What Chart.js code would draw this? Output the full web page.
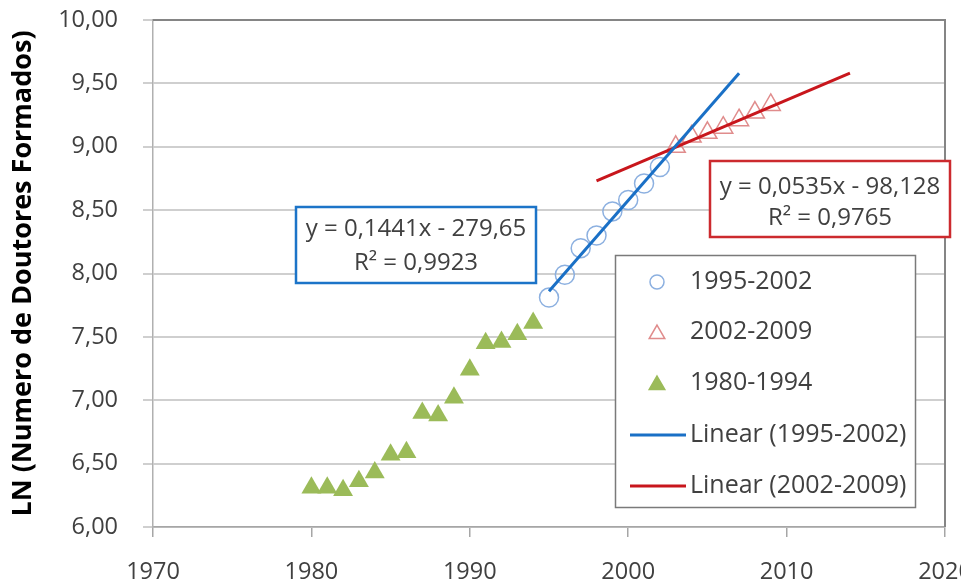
<!DOCTYPE html>
<html>
<head>
<meta charset="utf-8">
<script src="https://cdn.jsdelivr.net/npm/chart.js@4.4.1/dist/chart.umd.min.js"></script>
<style>
  html, body { margin: 0; padding: 0; background: #fff; }
  #wrap { width: 961px; height: 584px; }
</style>
</head>
<body>
<div id="wrap"><canvas id="chart" width="961" height="584"></canvas></div>
<script>
// values
const years8094 = [1980, 1981, 1982, 1983, 1984, 1985, 1986, 1987, 1988, 1989, 1990, 1991, 1992, 1993, 1994];
const ln8094 = [6.31, 6.31, 6.29, 6.36, 6.43, 6.57, 6.59, 6.90, 6.88, 7.02, 7.24, 7.45, 7.46, 7.52, 7.61];

const years9502 = [1995, 1996, 1997, 1998, 1999, 2000, 2001, 2002];
const ln9502 = [7.81, 7.99, 8.20, 8.30, 8.49, 8.58, 8.71, 8.84];

const years0209 = [2003, 2004, 2005, 2006, 2007, 2008, 2009];
const ln0209 = [9.00, 9.08, 9.11, 9.15, 9.21, 9.27, 9.33];

// trend line ends (as drawn)
const fitBlueX = [1995, 2007];
const fitBlueY = [7.86, 9.58];
const fitRedX = [1998, 2014];
const fitRedY = [8.73, 9.58];

const eqBlue = ["y = 0,1441x - 279,65", "R² = 0,9923"];
const eqRed = ["y = 0,0535x - 98,128", "R² = 0,9765"];

const legendLabels = ["1995-2002", "2002-2009", "1980-1994", "Linear (1995-2002)", "Linear (2002-2009)"];
const yTitle = "LN (Numero de Doutores Formados)";

const FONT = "'Open Sans', 'Liberation Sans', sans-serif";
const TEXT = "#404040";

const pts = (xs, ys) => xs.map((x, i) => ({ x, y: ys[i] }));

const datasets = [
  {
    label: legendLabels[0],
    data: pts(years9502, ln9502),
    pointStyle: "circle",
    pointRadius: 9.5,
    pointBorderWidth: 1.5,
    pointBorderColor: "#8cb0e0",
    pointBackgroundColor: "rgba(0,0,0,0)",
    order: 2,
  },
  {
    label: legendLabels[1],
    data: pts(years0209, ln0209),
    pointStyle: "triangle",
    pointRadius: 11,
    pointBorderWidth: 1.5,
    pointBorderColor: "#e08c8c",
    pointBackgroundColor: "rgba(0,0,0,0)",
    order: 2,
  },
  {
    label: legendLabels[2],
    data: pts(years8094, ln8094),
    pointStyle: "triangle",
    pointRadius: 11.5,
    pointBorderWidth: 0,
    pointBorderColor: "#9bbb59",
    pointBackgroundColor: "#9bbb59",
    order: 2,
  },
  {
    label: legendLabels[3],
    type: "line",
    data: pts(fitBlueX, fitBlueY),
    borderColor: "#1a70c6",
    borderWidth: 3,
    pointRadius: 0,
    showLine: true,
    order: 1,
  },
  {
    label: legendLabels[4],
    type: "line",
    data: pts(fitRedX, fitRedY),
    borderColor: "#c8161c",
    borderWidth: 3,
    pointRadius: 0,
    showLine: true,
    order: 1,
  },
];

// boxed equations, legend and frame
const overlay = {
  id: "overlay",
  afterDraw(chart) {
    const { ctx, chartArea: a } = chart;
    ctx.save();

    // top + right frame
    ctx.strokeStyle = "#858585";
    ctx.lineWidth = 2;
    ctx.beginPath();
    ctx.moveTo(a.left, a.top);
    ctx.lineTo(a.right, a.top);
    ctx.lineTo(a.right, a.bottom);
    ctx.stroke();

    const eqBox = (x, y, w, h, color, lines, lineY) => {
      ctx.fillStyle = "#fff";
      ctx.fillRect(x, y, w, h);
      ctx.strokeStyle = color;
      ctx.lineWidth = 2.5;
      ctx.strokeRect(x, y, w, h);
      ctx.fillStyle = TEXT;
      ctx.font = `24px ${FONT}`;
      ctx.textAlign = "center";
      ctx.textBaseline = "middle";
      lines.forEach((t, i) => ctx.fillText(t, x + w / 2, lineY[i]));
    };
    eqBox(296, 207, 240, 76, "#1c74c8", eqBlue, [229, 263]);
    eqBox(710, 161, 240, 76, "#cc2a2e", eqRed, [187, 218]);

    // legend
    const lx = 615.5, ly = 255.5, lw = 300, lh = 252;
    ctx.fillStyle = "#fff";
    ctx.fillRect(lx, ly, lw, lh);
    ctx.strokeStyle = "#7a7a7a";
    ctx.lineWidth = 1.5;
    ctx.strokeRect(lx, ly, lw, lh);
    const rows = [282, 332, 383, 435, 486];
    ctx.font = `25px ${FONT}`;
    ctx.textAlign = "left";
    ctx.textBaseline = "middle";
    datasets.forEach((ds, i) => {
      const y = rows[i];
      if (ds.type === "line") {
        ctx.strokeStyle = ds.borderColor;
        ctx.lineWidth = 3;
        ctx.beginPath();
        ctx.moveTo(630, y);
        ctx.lineTo(686, y);
        ctx.stroke();
      } else {
        ctx.strokeStyle = ds.pointBorderColor;
        ctx.fillStyle = ds.pointBackgroundColor;
        ctx.lineWidth = 1.5;
        Chart.helpers.drawPoint(ctx, {
          pointStyle: ds.pointStyle,
          radius: ds.pointStyle === "circle" ? 7 : 9,
          borderWidth: ds.pointBorderWidth || 1.5,
          rotation: 0,
        }, 657, y + (ds.pointStyle === "triangle" ? 2 : 0));
      }
      ctx.fillStyle = TEXT;
      ctx.fillText(ds.label, 690, y);
    });

    ctx.restore();
  },
};

new Chart(document.getElementById("chart"), {
  type: "scatter",
  data: { datasets },
  options: {
    responsive: false,
    animation: false,
    layout: { padding: { top: 20, right: 16, bottom: 0, left: 0 } },
    plugins: { legend: { display: false }, tooltip: { enabled: false } },
    scales: {
      x: {
        type: "linear",
        min: 1970,
        max: 2020,
        afterFit: (s) => { s.height = 57; s.paddingLeft = 0; s.paddingRight = 0; },
        ticks: {
          stepSize: 10,
          padding: 21,
          color: TEXT,
          font: { family: FONT, size: 23.5 },
          callback: (v) => String(v),
        },
        grid: { drawOnChartArea: false, drawTicks: true, tickLength: 10, color: "#a6a6a6", lineWidth: 1.5 },
        border: { display: true, color: "#a6a6a6", width: 1.5 },
      },
      y: {
        min: 6,
        max: 10,
        afterFit: (s) => { s.width = 153; s.paddingTop = 0; s.paddingBottom = 0; },
        ticks: {
          stepSize: 0.5,
          padding: 25,
          color: TEXT,
          font: { family: FONT, size: 23.5 },
          callback: (v) => v.toFixed(2).replace(".", ","),
        },
        grid: { color: "#cfcfcf", lineWidth: 2, tickLength: 10 },
        border: { display: true, color: "#b0b0b0", width: 1.5 },
        title: {
          display: true,
          text: yTitle,
          color: "#000",
          font: { family: FONT, size: 27, weight: "bold" },
          padding: { top: 7, bottom: 0 },
        },
      },
    },
  },
  plugins: [overlay],
});
</script>
</body>
</html>
